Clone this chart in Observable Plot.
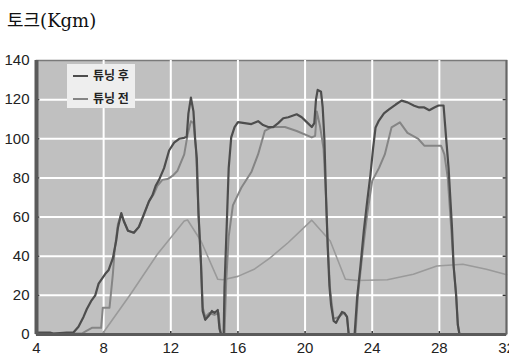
<!DOCTYPE html>
<html><head><meta charset="utf-8">
<script src="https://cdn.jsdelivr.net/npm/d3@7"></script>
<script src="https://cdn.jsdelivr.net/npm/@observablehq/plot@0.6"></script>
<style>
body{margin:0;background:#fff;width:509px;height:364px;overflow:hidden;position:relative}
#title{position:absolute;left:7px;top:6px;font-size:18px;font-family:"DejaVu Serif","Noto Sans CJK KR",serif;color:#111;white-space:nowrap;z-index:3}
#chart{position:absolute;left:0;top:0;z-index:1}
#legend{position:absolute;left:67px;top:64px;width:68px;height:44px;background:#eeeeee;z-index:2}
.lg{position:absolute;left:6px;width:15px;height:2px}
.lt{position:absolute;left:26px;font-size:12px;font-weight:bold;font-family:"Noto Sans CJK KR",sans-serif;color:#222;line-height:14px;white-space:nowrap}
</style></head>
<body>
<div id="chart"></div>
<div id="title">토크(Kgm)</div>
<div id="legend">
  <div class="lg" style="top:11px;background:#4d4d4d"></div><div class="lt" style="top:4px">튜닝 후</div>
  <div class="lg" style="top:34px;background:#858585"></div><div class="lt" style="top:27px">튜닝 전</div>
</div>
<script>
const xTicks = [4, 8, 12, 16, 20, 24, 28, 32];
const yTicks = [0, 20, 40, 60, 80, 100, 120, 140];
const seriesNames = ["튜닝 후", "튜닝 전", "기타"];

const afterX = [4,4.8,5.0,5.8,6.2,6.5,6.8,7.0,7.25,7.5,7.7,8.1,8.3,8.55,8.75,8.85,9.05,9.2,9.45,9.8,10.1,10.4,10.7,10.9,11.1,11.3,11.6,11.9,12.2,12.5,12.8,12.95,13.05,13.2,13.35,13.45,13.55,13.65,13.8,13.9,14.05,14.3,14.45,14.6,14.8,14.9,15.0,15.15,15.2,15.35,15.45,15.6,15.8,16.0,16.4,16.8,17.2,17.5,17.8,18.1,18.4,18.7,19.0,19.5,19.8,20.1,20.4,20.55,20.65,20.75,20.95,21.05,21.15,21.25,21.35,21.45,21.55,21.7,21.85,22.0,22.2,22.35,22.5,22.6,22.95,23.1,23.3,23.5,23.7,23.9,24.05,24.2,24.4,24.7,25.0,25.4,25.75,26.1,26.5,26.8,27.1,27.4,27.7,27.95,28.25,28.4,28.55,28.75,28.85,29.0,29.1,29.2];
const afterY = [1,1,0.5,1,1,4,9,13,17,20,26,31,33,39,48,54.5,62,58,53,52,55,61.5,68,71,76,79,85,94,98,100,100.5,101,113,121,114,100,90,62,36,12,7.5,10,12,11,12.5,3,0,0,24,60,85,100.7,106,108.5,108,107.5,109,107,106,106,108,110.5,111,112.5,111,108.5,106,108,120,125,124,116,100,70,45,25,15,7,6,8.5,11.5,11,9,0,0,18.8,35,53,68,82,95,105.8,109.3,113,115,117.5,119.5,118.6,116.9,116,116,114.6,116,117,117,100.7,85,55,35,20,5,0];

const beforeX = [4,6.7,6.95,7.3,7.85,7.95,8.35,8.55,8.65,8.85,9.05,9.2,9.45,9.8,10.1,10.4,10.7,11.0,11.2,11.5,11.8,12.1,12.4,12.8,13.0,13.2,13.35,13.5,13.65,13.8,13.9,14.05,14.3,14.6,14.85,14.95,15.0,15.2,15.3,15.45,15.7,16.2,16.8,17.2,17.6,18.0,18.8,19.5,20.4,20.6,20.7,20.9,21.1,21.25,21.35,21.5,21.7,22.0,22.3,22.5,22.6,23.0,23.15,23.4,23.7,24.0,24.4,24.75,25.15,25.65,26.1,26.75,27.1,28.1,28.3,28.5,28.7,28.85,29.0,29.1,29.2];
const beforeY = [0.5,0.5,1.7,3.4,3.4,13.7,13.7,30.8,42.7,56.4,61.6,58,53,52,55,61,68,72,76,79,79.4,81,83.7,92,102,109,108,95,62,36,14,9,11,10,11,2,0,0,27,50,66,75,83,92,104,106,106,104,100.7,101.5,114,106,95,70,45,22,8,9,11,9,0,0,20,40,61.5,78.5,85,92,105.8,108.4,103,99.9,96.5,96.5,92,80,55,35,20,5,0];

const otherX = [7.9,9.6,11.2,12.8,13.0,13.8,14.8,15.1,16.0,17.0,17.9,19.0,20.4,21.5,22.4,23.1,24.9,26.45,27.85,29.4,30.8,31.8,32];
const otherY = [0,20.6,41,58,58.5,47.8,28.2,28,29.7,33.5,39,47,58.4,47.8,28.2,27.6,28,30.8,35,35.9,33.3,31,30.5];

const toRows = (xs, ys) => xs.map((x, i) => ({x, y: ys[i]}));
const after = toRows(afterX, afterY);
const before = toRows(beforeX, beforeY);
const other = toRows(otherX, otherY);

const plot = Plot.plot({
  width: 509, height: 364,
  marginTop: 60, marginBottom: 30, marginLeft: 36, marginRight: 3,
  style: {fontFamily: '"Liberation Sans Narrow","Liberation Sans",sans-serif', fontSize: "15px", color: "#222", background: "white"},
  x: {domain: [4, 32], ticks: xTicks, tickSize: 0, tickPadding: 8, tickFormat: d => String(d), label: null},
  y: {domain: [0, 140], ticks: yTicks, tickSize: 0, tickPadding: 7, tickFormat: d => String(d), label: null},
  marks: [
    Plot.frame({fill: "#c0c0c0", stroke: "#7a7a7a", strokeWidth: 1.5}),
    Plot.ruleX(xTicks.slice(1, -1), {stroke: "white", strokeWidth: 2, strokeOpacity: 1}),
    Plot.ruleY(yTicks.slice(1, -1), {stroke: "white", strokeWidth: 2, strokeOpacity: 1}),
    Plot.ruleY(yTicks.slice(1, -1), {x1: 4, x2: 4.2, stroke: "#333", strokeWidth: 1.5}),
    Plot.ruleY(yTicks.slice(1, -1), {x1: 31.8, x2: 32, stroke: "#333", strokeWidth: 1.5}),
    Plot.ruleX(xTicks.slice(1, -1), {y1: 0, y2: 1.5, stroke: "#333", strokeWidth: 1.5}),
    Plot.line(other, {x: "x", y: "y", stroke: "#9a9a9a", strokeWidth: 1.6}),
    Plot.line(before, {x: "x", y: "y", stroke: "#858585", strokeWidth: 2}),
    Plot.line(after, {x: "x", y: "y", stroke: "#4d4d4d", strokeWidth: 2.2}),
    Plot.ruleX([4], {stroke: "#5a5a5a", strokeWidth: 4}),
    Plot.ruleY([0], {stroke: "#5a5a5a", strokeWidth: 3}),
    Plot.ruleX([32], {stroke: "#666", strokeWidth: 2})
  ]
});
document.getElementById("chart").appendChild(plot);
</script>
</body></html>
